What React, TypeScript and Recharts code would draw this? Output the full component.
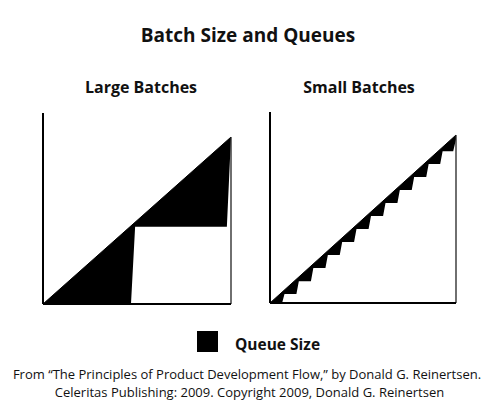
import { ComposedChart, Area, XAxis, YAxis, ReferenceLine } from 'recharts';

// cumulative arrivals (same straight line in both panels)
const arrivalTimes = [0, 10];
const arrivalCounts = [0, 10];

// cumulative departures, large batches
const largeDepTimes = [0, 4.68, 4.9, 9.78, 10];
const largeDepCounts = [0, 0, 4.63, 4.63, 10];

// cumulative departures, small batches
const smallDepTimes = [
  0, 0.65, 0.78, 1.42, 1.55, 2.2, 2.33, 2.98, 3.11, 3.75, 3.88, 4.52, 4.65,
  5.3, 5.43, 6.08, 6.21, 6.85, 6.98, 7.62, 7.75, 8.4, 8.53, 9.15, 9.28, 9.85, 10,
];
const smallDepCounts = [
  0, 0, 0.53, 0.53, 1.3, 1.3, 2.08, 2.08, 2.86, 2.86, 3.63, 3.63, 4.4,
  4.4, 5.18, 5.18, 5.96, 5.96, 6.73, 6.73, 7.5, 7.5, 8.28, 8.28, 9.03, 9.03, 9.75,
];

const panelTitles = ['Large Batches', 'Small Batches'];
const legendLabel = 'Queue Size';
const footerLines = [
  'From \u201CThe Principles of Product Development Flow,\u201D by Donald G. Reinertsen.',
  'Celeritas Publishing: 2009. Copyright 2009, Donald G. Reinertsen',
];

const toPoints = (ts: number[], qs: number[]) => ts.map((t, i) => ({ t, q: qs[i] }));

const arrivals = toPoints(arrivalTimes, arrivalCounts);

interface PanelProps {
  departures: { t: number; q: number }[];
  left: number;
  top: number;
  width: number;
  height: number;
  yMax: number;
}

function QueuePanel({ departures, left, top, width, height, yMax }: PanelProps) {
  return (
    <div style={{ position: 'absolute', left, top }}>
      <ComposedChart width={width} height={height} margin={{ top: 10, right: 10, bottom: 10, left: 10 }}>
        <XAxis dataKey="t" type="number" domain={[0, 10]} allowDataOverflow hide />
        <YAxis type="number" domain={[0, yMax]} allowDataOverflow hide />
        {/* arrivals minus departures = queue (black) */}
        <Area
          data={arrivals}
          dataKey="q"
          type="linear"
          fill="#000"
          fillOpacity={1}
          stroke="#000"
          strokeWidth={1}
          isAnimationActive={false}
        />
        <Area
          data={departures}
          dataKey="q"
          type="linear"
          fill="#fff"
          fillOpacity={1}
          stroke="none"
          isAnimationActive={false}
        />
        {/* axes and right edge */}
        <ReferenceLine segment={[{ x: 10, y: 0 }, { x: 10, y: 10 }]} stroke="#222" strokeWidth={1.3} />
        <ReferenceLine x={0} stroke="#000" strokeWidth={2} />
        <ReferenceLine y={0} stroke="#000" strokeWidth={2} />
      </ComposedChart>
    </div>
  );
}

export default function App() {
  const bold = { fontFamily: '"Open Sans", sans-serif', fontWeight: 700, fill: '#111' };
  const regular = { fontFamily: '"Open Sans", sans-serif', fontWeight: 400, fill: '#111' };

  return (
    <div style={{ position: 'absolute', left: 0, top: 0, width: 496, height: 408, background: '#fff' }}>
      <QueuePanel
        departures={toPoints(largeDepTimes, largeDepCounts)}
        left={33}
        top={103}
        width={208}
        height={211}
        yMax={11.44}
      />
      <QueuePanel
        departures={toPoints(smallDepTimes, smallDepCounts)}
        left={260}
        top={102}
        width={206}
        height={211}
        yMax={11.37}
      />
      <svg width={496} height={408} style={{ position: 'absolute', left: 0, top: 0, pointerEvents: 'none' }}>
        <text x={248} y={42} textAnchor="middle" fontSize={19} style={bold}>
          Batch Size and Queues
        </text>
        <text x={141} y={93} textAnchor="middle" fontSize={16} style={bold}>
          {panelTitles[0]}
        </text>
        <text x={359} y={93} textAnchor="middle" fontSize={16} style={bold}>
          {panelTitles[1]}
        </text>
        <rect x={197} y={331} width={21} height={21} fill="#000" />
        <text x={235} y={350} fontSize={15.5} style={bold}>
          {legendLabel}
        </text>
        <text x={247} y={379} textAnchor="middle" fontSize={13} style={regular}>
          {footerLines[0]}
        </text>
        <text x={249.5} y={397} textAnchor="middle" fontSize={13} style={regular}>
          {footerLines[1]}
        </text>
      </svg>
    </div>
  );
}
